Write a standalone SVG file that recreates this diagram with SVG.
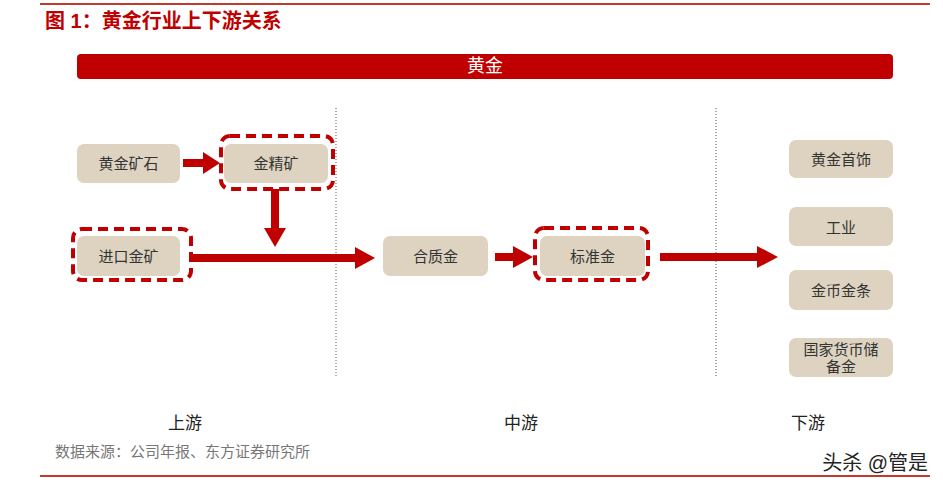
<svg xmlns="http://www.w3.org/2000/svg" width="943" height="489" viewBox="0 0 943 489">
<style>
text{font-family:"Liberation Sans","Noto Sans CJK SC",sans-serif}
.n{fill:#ddd3c0}
.t{font-size:15px;fill:#333;text-anchor:middle}
.d{fill:none;stroke:#c00000;stroke-width:4;stroke-dasharray:10,6}
.a{stroke:#c00000;stroke-width:8;fill:none}
.h{fill:#c00000}
.v{stroke:#555;stroke-dasharray:1,2;stroke-width:1}
.s{font-size:17px;fill:#222;text-anchor:middle}
</style>
<rect width="943" height="489" fill="#fff"/>
<line x1="40" y1="4" x2="930" y2="4" stroke="#c0392b" stroke-width="2"/>
<text x="45" y="28" font-size="20" font-weight="bold" fill="#c00000">图 1：黄金行业上下游关系</text>
<g id="banner"><rect x="77" y="54" width="816" height="25" rx="4" fill="#c00000"/><text x="485" y="72" font-size="18" fill="#fff" text-anchor="middle">黄金</text></g>
<line class="v" x1="336" y1="108" x2="336" y2="378"/>
<line class="v" x1="716" y1="108" x2="716" y2="378"/>
<g id="connectors">
<line class="a" x1="183" y1="163" x2="205" y2="163"/><polygon class="h" points="203,152 220,163 203,174"/>
<line class="a" x1="275" y1="189" x2="275" y2="230"/><polygon class="h" points="264,228 275,247 286,228"/>
<line class="a" x1="191" y1="258" x2="357" y2="258"/><polygon class="h" points="355,247 375,258 355,269"/>
<line class="a" x1="495" y1="257" x2="515" y2="257"/><polygon class="h" points="513,246 533,257 513,268"/>
<line class="a" x1="660" y1="257" x2="760" y2="257"/><polygon class="h" points="757,246 778,257 757,268"/>
</g>
<g id="n1"><rect class="n" x="77" y="144" width="103" height="39" rx="7"/><text class="t" x="128.5" y="169">黄金矿石</text></g>
<g id="n2"><rect class="n" x="224" y="144" width="104" height="39" rx="7"/><rect class="d" x="221" y="136" width="112" height="53" rx="9"/><text class="t" x="276" y="169">金精矿</text></g>
<g id="n3"><rect class="n" x="77" y="236" width="103" height="40" rx="7"/><rect class="d" x="73" y="229" width="118" height="51" rx="9"/><text class="t" x="128.5" y="262">进口金矿</text></g>
<g id="n4"><rect class="n" x="383" y="236" width="105" height="40" rx="7"/><text class="t" x="435.5" y="262">合质金</text></g>
<g id="n5"><rect class="n" x="540" y="236" width="105" height="40" rx="7"/><rect class="d" x="535" y="228" width="113" height="52" rx="9"/><text class="t" x="592.5" y="262">标准金</text></g>
<g id="n6"><rect class="n" x="789" y="140" width="104" height="38" rx="7"/><text class="t" x="841" y="165">黄金首饰</text></g>
<g id="n7"><rect class="n" x="789" y="207" width="104" height="39" rx="7"/><text class="t" x="841" y="233">工业</text></g>
<g id="n8"><rect class="n" x="789" y="270" width="104" height="40" rx="7"/><text class="t" x="841" y="296">金币金条</text></g>
<g id="n9"><rect class="n" x="789" y="338" width="104" height="39" rx="7"/><text class="t" x="841" y="355">国家货币储</text><text class="t" x="841" y="372">备金</text></g>
<text class="s" x="185" y="429">上游</text>
<text class="s" x="521" y="429">中游</text>
<text class="s" x="808" y="429">下游</text>
<text x="55" y="457" font-size="15" fill="#777">数据来源：公司年报、东方证券研究所</text>
<text x="928" y="470" font-size="20" fill="#222" text-anchor="end">头杀 @管是</text>
<line x1="40" y1="476" x2="930" y2="476" stroke="#c0392b" stroke-width="2"/>
</svg>
